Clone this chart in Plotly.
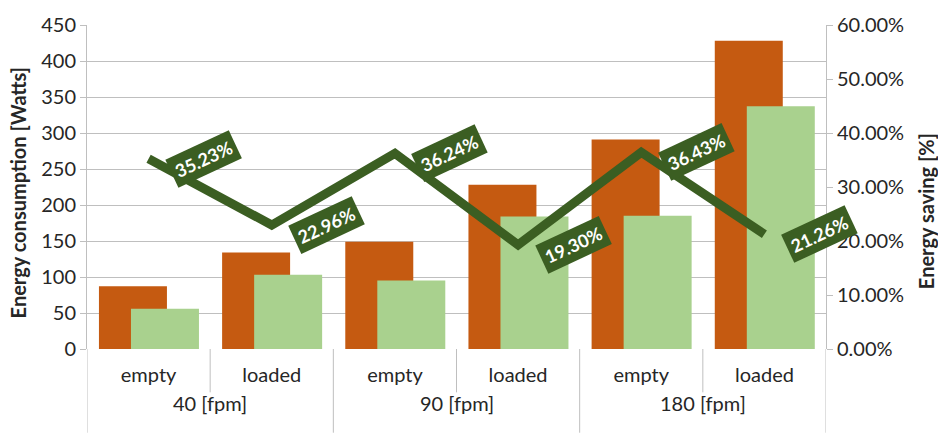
import plotly.graph_objects as go

# Conveyor speed groups and load state per measurement
speed_groups = ["40 [fpm]", "90 [fpm]", "180 [fpm]"]
loads = ["empty", "loaded", "empty", "loaded", "empty", "loaded"]

# Energy consumption [Watts]
consumption_before = [87, 134, 149, 228, 291, 428]
consumption_after = [56, 103, 95, 184, 185, 337]

# Energy saving [fraction]
saving = [0.3523, 0.2296, 0.3624, 0.1930, 0.3643, 0.2126]
saving_labels = ["35.23%", "22.96%", "36.24%", "19.30%", "36.43%", "21.26%"]

ORANGE = "#C55A11"
LIGHT_GREEN = "#A9D18E"
DARK_GREEN = "#3B5E22"
GRID = "#BFBFBF"
TEXT = "#262626"
FONT = "Lato, Carlito, 'Open Sans', sans-serif"

W, H, L, R, T, B = 938, 434, 87, 112, 20, 85
pw, ph = W - L - R, H - T - B


def py_to_paper(py):
    return (H - B - py) / ph


def px_to_paper(px):
    return (px - L) / pw


xi = list(range(len(loads)))
per_group = len(loads) // len(speed_groups)

fig = go.Figure()
fig.add_trace(go.Bar(
    x=xi, y=consumption_before, marker=dict(color=ORANGE, line=dict(width=0)),
    width=0.552, offset=-0.403, name="before",
))
fig.add_trace(go.Bar(
    x=xi, y=consumption_after, marker=dict(color=LIGHT_GREEN, line=dict(width=0)),
    width=0.552, offset=-0.143, name="after",
))
fig.add_trace(go.Scatter(
    x=xi, y=saving, yaxis="y2", mode="lines",
    line=dict(color=DARK_GREEN, width=9), name="saving",
))

# Rotated value boxes beside each line point
for i, (v, lab) in enumerate(zip(saving, saving_labels)):
    fig.add_annotation(
        x=i, y=v, xref="x", yref="y2", text="<b>" + lab + "</b>",
        showarrow=False, textangle=-25, xshift=55,
        font=dict(family=FONT, size=18, color="white"),
        bgcolor=DARK_GREEN, borderpad=4,
    )

# Speed-group labels (second category row)
for g, name in enumerate(speed_groups):
    fig.add_annotation(
        x=g * per_group + (per_group - 1) / 2, y=py_to_paper(404),
        xref="x", yref="paper", xanchor="center", yanchor="middle",
        text=name, showarrow=False, font=dict(family=FONT, size=20, color=TEXT),
    )

# Category dividers below the axis: short between loads, full between speed groups
for k in range(len(loads) + 1):
    outer = k % per_group == 0
    fig.add_shape(
        type="line", xref="x", yref="paper",
        x0=k - 0.5, x1=k - 0.5, y0=0, y1=py_to_paper(H if outer else 393),
        line=dict(color=GRID, width=1), layer="below",
    )

# Axis titles, positioned in page pixels
for text, (px, py) in [("Energy consumption [Watts]", (18, 191)),
                       ("Energy saving [%]", (926, 209))]:
    fig.add_annotation(
        x=px_to_paper(px), y=py_to_paper(py), xref="paper", yref="paper",
        xanchor="center", yanchor="middle",
        text="<b>" + text + "</b>", showarrow=False, textangle=-90,
        font=dict(family=FONT, size=20, color=TEXT),
    )

fig.update_layout(
    width=W, height=H,
    margin=dict(l=L, r=R, t=T, b=B),
    paper_bgcolor="white", plot_bgcolor="white",
    barmode="overlay", showlegend=False,
    font=dict(family=FONT, size=20, color=TEXT),
    xaxis=dict(
        range=[-0.5, len(loads) - 0.5], autorange=False, showgrid=False, zeroline=False,
        showline=False, ticks="", tickmode="array", tickvals=xi, ticktext=loads,
        ticklabelstandoff=12, tickfont=dict(size=20, color=TEXT),
    ),
    yaxis=dict(
        range=[0, 450], dtick=50, showgrid=True, gridcolor=GRID, gridwidth=1,
        showline=True, linecolor=GRID, ticks="outside", ticklen=6, tickcolor=GRID,
        zeroline=False, tickfont=dict(size=20, color=TEXT),
    ),
    yaxis2=dict(
        overlaying="y", side="right", range=[0, 0.6], dtick=0.1, tickformat=".2%",
        showgrid=False, showline=True, linecolor=GRID, ticks="outside", ticklen=6,
        tickcolor=GRID, zeroline=False, tickfont=dict(size=20, color=TEXT),
    ),
)

fig.write_html("out.html")
